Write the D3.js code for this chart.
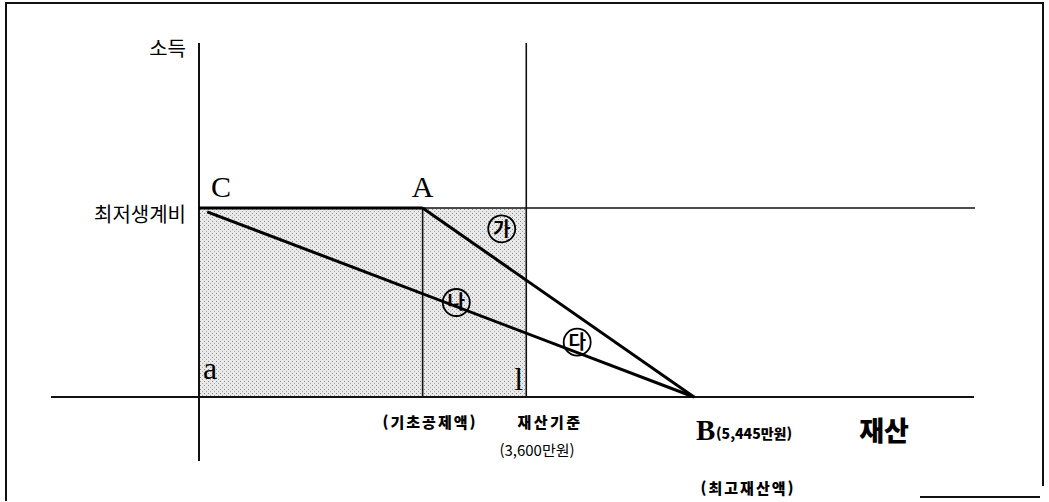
<!DOCTYPE html>
<html lang="ko">
<head>
<meta charset="UTF-8">
<title>재산 기준 소득 환산</title>
<script src="https://d3js.org/d3.v7.min.js"></script>
<style>
  body { margin: 0; background: #fff; }
  .kr { font-family: "Noto Sans CJK KR", "Noto Sans", sans-serif; }
  .lt { font-family: "Liberation Serif", "DejaVu Serif", serif; }
</style>
</head>
<body>
<svg width="1049" height="502"></svg>
<script>
// values in 만원 (재산) and 최저생계비 = 1 (소득)
const baseDeduction = 2460;   // 기초공제액 (A)
const assetStandard = 3600;   // 재산기준
const maxAsset = 5445;        // 최고재산액 (B)
const minLiving = 1;          // 최저생계비

const lineGa = [[baseDeduction, minLiving], [maxAsset, 0]];   // A -> B
const lineNa = [[90, 0.98], [maxAsset, 0]];                   // C -> B
const topLine = [[0, minLiving], [baseDeduction, minLiving]]; // C -> A

const circled = [
  { t: "가", x: 3330, y: 0.89 },
  { t: "나", x: 2830, y: 0.50 },
  { t: "다", x: 4160, y: 0.29 }
];

const svg = d3.select("svg");

const x = d3.scaleLinear().domain([0, maxAsset]).range([199, 694]);
const y = d3.scaleLinear().domain([0, minLiving]).range([397, 208]);

// outer frame
const frame = svg.append("g").attr("stroke", "#111").attr("stroke-width", 2).attr("fill", "none");
frame.append("path").attr("d", "M6,501 L6,3 L1043,3 L1043,486");
frame.append("line").attr("x1", 920).attr("x2", 1040).attr("y1", 497).attr("y2", 497);

// stipple pattern for shaded area
const defs = svg.append("defs");
const pat = defs.append("pattern").attr("id", "dots")
  .attr("width", 4).attr("height", 4).attr("patternUnits", "userSpaceOnUse");
pat.append("rect").attr("width", 4).attr("height", 4).attr("fill", "#e9e9e9");
pat.append("rect").attr("x", 0).attr("y", 1).attr("width", 1).attr("height", 1).attr("fill", "#8a8a8a");
pat.append("rect").attr("x", 2).attr("y", 3).attr("width", 1).attr("height", 1).attr("fill", "#a5a5a5");

svg.append("rect")
  .attr("x", x(0)).attr("y", y(minLiving))
  .attr("width", x(assetStandard) - x(0))
  .attr("height", y(0) - y(minLiving))
  .attr("fill", "url(#dots)");

// axes and guide lines
const g = svg.append("g").attr("stroke", "#111").attr("fill", "none");
g.append("line").attr("x1", 51).attr("x2", 974).attr("y1", y(0)).attr("y2", y(0)).attr("stroke-width", 2);
g.append("line").attr("x1", x(0)).attr("x2", 975).attr("y1", y(minLiving)).attr("y2", y(minLiving)).attr("stroke-width", 1.6);
g.append("line").attr("x1", x(0)).attr("x2", x(0)).attr("y1", 43).attr("y2", 461).attr("stroke-width", 2);
g.append("line").attr("x1", x(assetStandard)).attr("x2", x(assetStandard)).attr("y1", 43).attr("y2", y(0)).attr("stroke-width", 1.6);
g.append("line").attr("x1", x(baseDeduction)).attr("x2", x(baseDeduction)).attr("y1", y(minLiving)).attr("y2", y(0)).attr("stroke-width", 1.6);

const line = d3.line().x(d => x(d[0])).y(d => y(d[1]));
[topLine, lineGa, lineNa].forEach(d => {
  svg.append("path").attr("d", line(d))
    .attr("fill", "none").attr("stroke", "#000").attr("stroke-width", 3);
});

// circled labels
const cg = svg.selectAll("g.circ").data(circled).join("g").attr("class", "circ")
  .attr("transform", d => `translate(${x(d.x)},${y(d.y)})`);
cg.append("circle").attr("r", 13.5).attr("fill", "none").attr("stroke", "#000").attr("stroke-width", 1.8);
cg.append("text").attr("class", "kr").attr("text-anchor", "middle").attr("dy", "0.36em")
  .attr("font-size", 19).attr("font-weight", 700).text(d => d.t);

// letters
function txt(cls, tx, ty, s, size, opts = {}) {
  const t = svg.append("text").attr("class", cls).attr("x", tx).attr("y", ty)
    .attr("font-size", size).attr("fill", "#000")
    .attr("text-anchor", opts.anchor || "start")
    .attr("font-weight", opts.weight || 400)
    .attr("dominant-baseline", "central")
    .text(s);
  if (opts.ls) t.attr("letter-spacing", opts.ls);
  return t;
}

txt("lt", x(0) + 12, 186, "C", 30);
txt("lt", x(baseDeduction), 186, "A", 30, { anchor: "middle" });
txt("lt", x(0) + 4, 368, "a", 32);
txt("lt", x(assetStandard) - 12, 379, "l", 32);

txt("kr", 186, 47, "소득", 20, { anchor: "end" });
txt("kr", 186, 213, "최저생계비", 20, { anchor: "end" });

txt("kr", 430, 421, "(기초공제액)", 15, { anchor: "middle", weight: 900, ls: 2 });
txt("kr", 550, 421, "재산기준", 15, { anchor: "middle", weight: 900, ls: 2.5 });
txt("kr", 537, 449, "(3,600만원)", 15, { anchor: "middle" });

txt("lt", x(maxAsset) + 2, 430, "B", 29, { weight: 700 });
txt("kr", 716, 433, "(5,445만원)", 14, { weight: 900 });
txt("kr", 748, 487, "(최고재산액)", 15, { anchor: "middle", weight: 900, ls: 2 });
txt("kr", 884, 429, "재산", 27, { anchor: "middle", weight: 900 });
</script>
</body>
</html>
